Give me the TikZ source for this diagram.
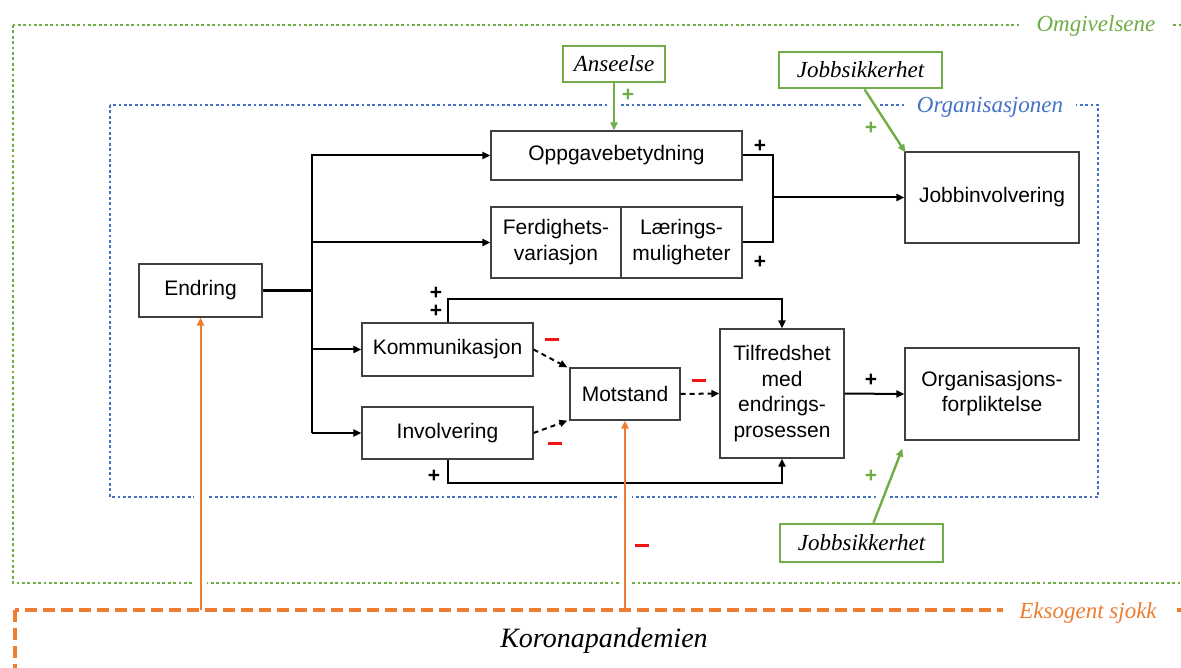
\documentclass[tikz,border=0pt]{standalone}
\usepackage{fontspec}
\setmainfont{Liberation Serif}
\newfontfamily\boxfont{Liberation Sans}
\usetikzlibrary{arrows.meta,calc}

\definecolor{envgreen}{RGB}{112,173,71}
\definecolor{orgblue}{RGB}{68,114,196}
\definecolor{shockorange}{RGB}{237,125,49}
\definecolor{boxgray}{RGB}{64,64,64}
\definecolor{minusred}{RGB}{240,20,20}

\begin{document}
\begin{tikzpicture}[x=1pt,y=-1pt,
  box/.style={draw=boxgray,line width=1.2pt,fill=white,inner sep=0pt,align=center,
    font=\boxfont\fontsize{21}{26}\selectfont},
  envbox/.style={draw=envgreen,line width=2.6pt,fill=white,inner sep=0pt,
    font=\itshape\fontsize{23}{27}\selectfont},
  framelabel/.style={fill=white,inner ysep=1pt,font=\itshape\fontsize{23}{27}\selectfont},
  envdots/.style={envgreen,line width=2.8pt,dash pattern=on 2.8pt off 2.6pt},
  orgdots/.style={orgblue,line width=2.8pt,dash pattern=on 2.8pt off 2.6pt},
  shockdash/.style={shockorange,line width=3.8pt,dash pattern=on 12pt off 6pt},
  halo/.style={white,line width=13pt},
  tip/.style={-{Triangle[length=8pt,width=7pt]}},
  link/.style={tip,line width=2pt,black},
  dlink/.style={tip,line width=2pt,black,dash pattern=on 5pt off 4pt},
  glink/.style={tip,line width=2.4pt,envgreen},
  olink/.style={tip,line width=2pt,shockorange},
  plus/.style={font=\boxfont\bfseries\fontsize{21}{21}\selectfont,inner sep=0pt,
    text height=12.5pt,text depth=-2.5pt},
  minus/.style={minusred,line width=3pt}
]
\useasboundingbox (0,0) rectangle (1181,668);
\clip (0,0) rectangle (1181,668);

% ---- frames ----
\draw[envdots] (13,25) rectangle (1230,583);
\draw[orgdots] (110,105) rectangle (1098,497);
\draw[shockdash] (15,610) rectangle (1230,720);
\coordinate (shocktop) at (0,607);

% ---- nodes ----
\node[box,minimum width=123pt,minimum height=53pt] (endr) at (200.5,290.5) {Endring};
\node[box,minimum width=251pt,minimum height=49pt] (oppg) at (616.5,155.5) {Oppgavebetydning};
\node[box,minimum width=130pt,minimum height=71pt] (ferd) at (556,242.5) {Ferdighets-\\variasjon};
\node[box,minimum width=121pt,minimum height=71pt] (laer) at (681.5,242.5) {Lærings-\\muligheter};
\node[box,minimum width=174pt,minimum height=91pt] (jobb) at (992,197.5) {Jobbinvolvering};
\node[box,minimum width=171pt,minimum height=53pt] (komm) at (447.5,349.5) {Kommunikasjon};
\node[box,minimum width=171pt,minimum height=52pt] (invo) at (447.5,433) {Involvering};
\node[box,minimum width=110pt,minimum height=52pt] (mots) at (625,394) {Motstand};
\node[box,minimum width=124pt,minimum height=129pt,font=\boxfont\fontsize{21}{25.5}\selectfont] (tilf) at (782,393.5) {Tilfredshet\\med\\endrings-\\prosessen};
\node[box,minimum width=174pt,minimum height=92pt,font=\boxfont\fontsize{21}{25}\selectfont] (org) at (992,394) {Organisasjons-\\forpliktelse};
\node[envbox,minimum width=102pt,minimum height=36pt] (ans) at (614,64) {Anseelse};
\node[envbox,minimum width=163pt,minimum height=36pt] (js1) at (860.5,70) {Jobbsikkerhet};
\node[envbox,minimum width=163pt,minimum height=38pt] (js2) at (861.5,543) {Jobbsikkerhet};

% ---- gaps where outside influences cross the frames ----
\draw[halo] (endr.south |- shocktop) -- ([yshift=-20pt]endr.south);
\draw[halo] (mots.south |- shocktop) -- ([yshift=-20pt]mots.south);
\draw[halo,line width=11pt] ([yshift=-6pt]ans.south) -- ([yshift=8pt]oppg.north -| ans.south);
\draw[halo,line width=11pt] ($(js1.south)+(4,8)$) -- ($(jobb.north west)+(-8,-12)$);
\draw[halo,line width=11pt] ($(js2.north)+(12,-8)$) -- ($(org.south west)+(-4,20)$);

% ---- frame labels ----
\node[framelabel,text=envgreen,inner xsep=18pt] (lomg) at (1096,26) {Omgivelsene};
\node[framelabel,text=orgblue,inner xsep=13pt] (lorg) at (990,107) {Organisasjonen};
\node[framelabel,text=shockorange,inner xsep=16pt] (lsjokk) at (1088,613) {Eksogent sjokk};
\node[font=\itshape\fontsize{28}{32}\selectfont,inner sep=0pt] (korona) at (604,641) {Koronapandemien};

% ---- connectors from Endring ----
\coordinate (bus) at (312,290.5);
\draw[line width=3.6pt] (endr.east) -- (bus);
\draw[link] (bus |- invo) -- (bus |- oppg) -- (oppg.west);
\draw[link] (bus |- ferd) -- (ferd.west);
\draw[link] (bus |- komm) -- (komm.west);
\draw[link] (bus |- invo) -- (invo.west);

% ---- job characteristics to job involvement ----
\coordinate (merge) at (773,197.5);
\draw[line width=2pt] (oppg.east) -| (merge) |- (laer.east);
\draw[link] (merge) -- (jobb.west);

% ---- change process ----
\coordinate (topbar) at (0,299);
\coordinate (botbar) at (0,483);
\draw[link] (komm.north) -- (komm.north |- topbar) -| (tilf.north);
\draw[link] (invo.south) -- (invo.south |- botbar) -| (tilf.south);
\draw[dlink] (komm.east) -- ([xshift=-2pt]mots.north west);
\draw[dlink] (invo.east) -- ([xshift=-2pt]mots.south west);
\draw[dlink] (mots.east) -- (tilf.west);
\draw[link] (tilf.east) -- (org.west);

% ---- environment influences ----
\draw[glink] (ans.south) -- (ans.south |- oppg.north);
\draw[glink] ([xshift=4pt]js1.south) -- ([xshift=1pt,yshift=-1pt]jobb.north west);
\draw[glink] ([xshift=12pt]js2.north) -- ([xshift=-2pt,yshift=-8pt]org.south west);

% ---- exogenous shock ----
\coordinate (shockline) at (0,610);
\draw[olink] (endr.south |- shockline) -- (endr.south);
\draw[olink] (mots.south |- shockline) -- (mots.south);

% ---- signs ----
\node[plus] (p1) at (760,146) {+};
\node[plus] (p2) at (760,262) {+};
\node[plus] (p3) at (436,293) {+};
\node[plus] (p4) at (436,311) {+};
\node[plus] (p5) at (434,476) {+};
\node[plus] (p6) at (871,380) {+};
\node[plus,text=envgreen] (g1) at (628,95) {+};
\node[plus,text=envgreen] (g2) at (871,128) {+};
\node[plus,text=envgreen] (g3) at (871,476) {+};
\draw[minus] (545,340) -- (559,340);
\draw[minus] (548,443) -- (562,443);
\draw[minus] (692,380) -- (706,380);
\draw[minus] (635,545) -- (649,545);
\end{tikzpicture}
\end{document}
